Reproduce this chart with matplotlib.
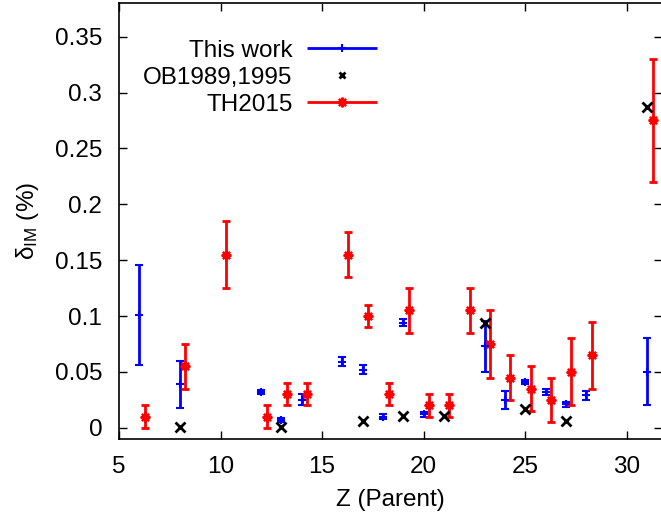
import matplotlib
matplotlib.use("Agg")
import matplotlib.pyplot as plt
from matplotlib.legend_handler import HandlerErrorbar
import numpy as np

plt.rcParams['font.family'] = ['Liberation Sans', 'DejaVu Sans']
plt.rcParams['mathtext.fontset'] = 'custom'
plt.rcParams['mathtext.rm'] = 'Liberation Sans'
plt.rcParams['mathtext.it'] = 'Liberation Sans:italic'

# This work
z_this = [6, 8, 12, 13, 14, 16, 17, 18, 19, 20, 23, 24, 25, 26, 27, 28, 31]
d_this = [0.101, 0.039, 0.032, 0.007, 0.025, 0.059, 0.052, 0.010, 0.094, 0.012,
          0.073, 0.025, 0.041, 0.032, 0.021, 0.029, 0.050]
e_this = [0.045, 0.021, 0.002, 0.002, 0.005, 0.004, 0.004, 0.002, 0.003, 0.002,
          0.023, 0.008, 0.002, 0.003, 0.002, 0.004, 0.030]

# OB1989,1995
z_ob = [8, 13, 17, 19, 21, 23, 25, 27, 31]
d_ob = [0.001, 0.001, 0.006, 0.011, 0.011, 0.094, 0.017, 0.006, 0.287]

# TH2015
z_th = [6, 8, 10, 12, 13, 14, 16, 17, 18, 19, 20, 21, 22, 23, 24, 25, 26, 27, 28, 31]
d_th = [0.010, 0.055, 0.155, 0.010, 0.030, 0.030, 0.155, 0.100, 0.030, 0.105,
        0.020, 0.020, 0.105, 0.075, 0.045, 0.035, 0.025, 0.050, 0.065, 0.275]
e_th = [0.010, 0.020, 0.030, 0.010, 0.010, 0.010, 0.020, 0.010, 0.010, 0.020,
        0.010, 0.010, 0.020, 0.030, 0.020, 0.020, 0.020, 0.030, 0.030, 0.055]

FS = 17.5

fig = plt.figure(figsize=(6.61, 5.22), dpi=100)
ax = fig.add_axes([0.180, 0.159, 0.822, 0.835])

# TH2015 is drawn slightly shifted to the right so the bars don't overlap
z_th_shift = np.array(z_th) + 0.27

ax.errorbar(z_this, d_this, yerr=e_this, fmt='+', color='#0000ff', ms=6, mew=1.5,
            elinewidth=2, capsize=3, capthick=2, zorder=3)
ax.plot(z_ob, d_ob, 'x', color='black', ms=6.5, mew=2, zorder=4)
ax.errorbar(z_th_shift, d_th, yerr=e_th, fmt='none', color='#ff0000',
            elinewidth=2, capsize=3, capthick=2, zorder=3)
ax.plot(z_th_shift, d_th, ls='none', marker=(8, 2, 0), color='#ff0000', ms=7, mew=1.6, zorder=3)

# legend proxies (horizontal bars, gnuplot style)
h1 = ax.errorbar([], [], xerr=[], fmt='+', color='#0000ff', ms=6, mew=1.5,
                 elinewidth=2, capsize=3, capthick=2)
h2, = ax.plot([], [], 'x', color='black', ms=5, mew=2)
h3 = ax.errorbar([], [], xerr=[], fmt='none', color='#ff0000',
                 elinewidth=2, capsize=3, capthick=2)
h3m, = ax.plot([], [], ls='none', marker=(8, 2, 0), color='#ff0000', ms=7, mew=1.6)

leg = ax.legend([h1, h2, (h3, h3m)], ['This work', 'OB1989,1995', 'TH2015'],
                loc='upper right', bbox_to_anchor=(0.475, 0.916), markerfirst=False,
                frameon=False, fontsize=FS, handlelength=2.88, handletextpad=0.6,
                labelspacing=0.2, borderpad=0.0, borderaxespad=0.0,
                handler_map={type(h1): HandlerErrorbar(xerr_size=1.44)})

ax.set_xlim(5, 31.75)
ax.set_ylim(-0.01, 0.38)
ax.set_xticks([5, 10, 15, 20, 25, 30])
ax.set_yticks([0, 0.05, 0.1, 0.15, 0.2, 0.25, 0.3, 0.35])
ax.set_yticklabels(['0', '0.05', '0.1', '0.15', '0.2', '0.25', '0.3', '0.35'])
ax.tick_params(direction='in', length=6, width=1, top=True, right=True,
               labelsize=FS, pad=12)
for s in ax.spines.values():
    s.set_linewidth(1.2)

ax.set_xlabel('Z (Parent)', fontsize=FS, labelpad=8)
ax.set_ylabel(r'δ$_{\mathrm{IM}}$ (%)', fontsize=FS, labelpad=10)

fig.savefig('out.png', dpi=100)
